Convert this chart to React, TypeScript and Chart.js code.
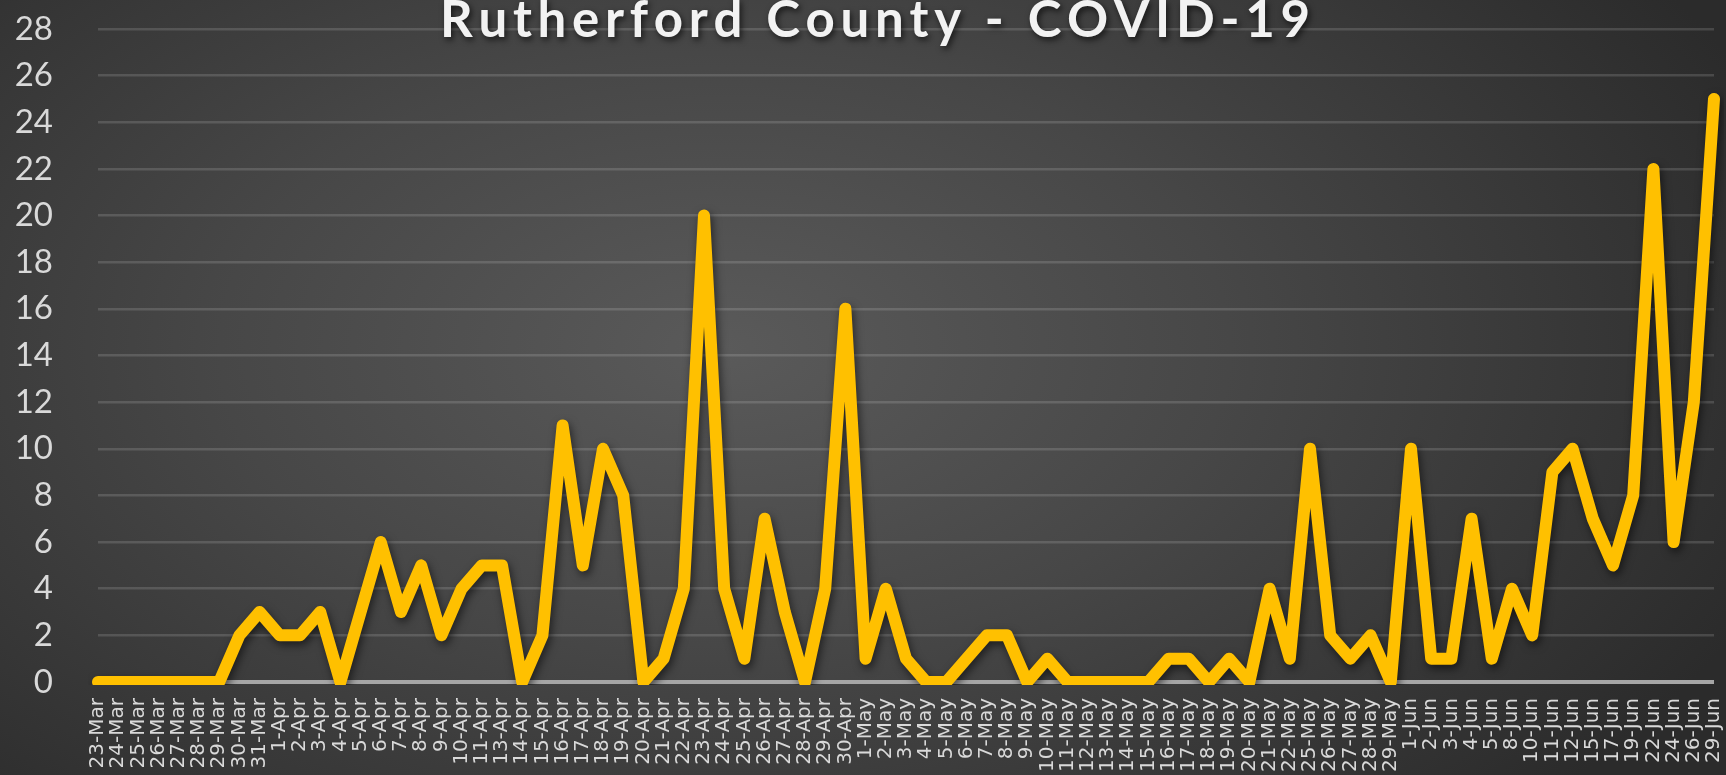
import React, { useEffect, useRef } from 'react';
import { Chart, registerables } from 'chart.js';

Chart.register(...registerables);

const TITLE = 'Rutherford County - COVID-19';

const dates = [
  '23-Mar', '24-Mar', '25-Mar', '26-Mar', '27-Mar', '28-Mar', '29-Mar', '30-Mar', '31-Mar',
  '1-Apr', '2-Apr', '3-Apr', '4-Apr', '5-Apr', '6-Apr', '7-Apr', '8-Apr', '9-Apr', '10-Apr',
  '11-Apr', '13-Apr', '14-Apr', '15-Apr', '16-Apr', '17-Apr', '18-Apr', '19-Apr', '20-Apr',
  '21-Apr', '22-Apr', '23-Apr', '24-Apr', '25-Apr', '26-Apr', '27-Apr', '28-Apr', '29-Apr', '30-Apr',
  '1-May', '2-May', '3-May', '4-May', '5-May', '6-May', '7-May', '8-May', '9-May', '10-May',
  '11-May', '12-May', '13-May', '14-May', '15-May', '16-May', '17-May', '18-May', '19-May',
  '20-May', '21-May', '22-May', '25-May', '26-May', '27-May', '28-May', '29-May',
  '1-Jun', '2-Jun', '3-Jun', '4-Jun', '5-Jun', '8-Jun', '10-Jun', '11-Jun', '12-Jun',
  '15-Jun', '17-Jun', '19-Jun', '22-Jun', '24-Jun', '26-Jun', '29-Jun',
];

const newCases = [
  0, 0, 0, 0, 0, 0, 0, 2, 3,
  2, 2, 3, 0, 3, 6, 3, 5, 2, 4,
  5, 5, 0, 2, 11, 5, 10, 8, 0,
  1, 4, 20, 4, 1, 7, 3, 0, 4, 16,
  1, 4, 1, 0, 0, 1, 2, 2, 0, 1,
  0, 0, 0, 0, 0, 1, 1, 0, 1,
  0, 4, 1, 10, 2, 1, 2, 0,
  10, 1, 1, 7, 1, 4, 2, 9, 10,
  7, 5, 8, 22, 6, 12, 25,
];

const Y_MIN = 0;
const Y_MAX = 28;
const Y_STEP = 2;

const titlePlugin = {
  id: 'spacedTitle',
  afterDraw(chart: any) {
    const ctx = chart.ctx as CanvasRenderingContext2D;
    ctx.save();
    ctx.font = 'bold 51px Lato, "Open Sans", sans-serif';
    ctx.fillStyle = '#f2f2f2';
    ctx.textBaseline = 'alphabetic';
    ctx.textAlign = 'left';
    ctx.shadowColor = 'rgba(0,0,0,0.65)';
    ctx.shadowBlur = 6;
    ctx.shadowOffsetX = 2;
    ctx.shadowOffsetY = 3;
    const chars = Array.from(TITLE);
    const widths = chars.map((c) => ctx.measureText(c).width);
    const natural = widths.reduce((a, b) => a + b, 0);
    const target = 870;
    const spacing = (target - natural) / (chars.length - 1);
    let x = 875 - target / 2;
    chars.forEach((c, i) => {
      ctx.fillText(c, x, 37);
      x += widths[i] + spacing;
    });
    ctx.restore();
  },
};

const shadowPlugin = {
  id: 'lineShadow',
  beforeDatasetDraw(chart: any) {
    const ctx = chart.ctx as CanvasRenderingContext2D;
    ctx.save();
    ctx.shadowColor = 'rgba(0,0,0,0.55)';
    ctx.shadowBlur = 8;
    ctx.shadowOffsetX = 2;
    ctx.shadowOffsetY = 4;
  },
  afterDatasetDraw(chart: any) {
    chart.ctx.restore();
  },
};

export default function App() {
  const canvasRef = useRef<HTMLCanvasElement | null>(null);

  useEffect(() => {
    if (!canvasRef.current) return;
    const chart = new Chart(canvasRef.current, {
      type: 'line',
      data: {
        labels: dates,
        datasets: [
          {
            label: 'New cases',
            data: newCases,
            borderColor: '#FFC000',
            backgroundColor: '#FFC000',
            borderWidth: 12,
            borderJoinStyle: 'round',
            borderCapStyle: 'round',
            pointRadius: 0,
            pointHoverRadius: 0,
            tension: 0,
            fill: false,
            clip: { left: 10, right: 10, top: 10, bottom: 3 } as any,
          },
        ],
      },
      options: {
        animation: false,
        responsive: false,
        maintainAspectRatio: false,
        events: [],
        layout: { padding: { top: 29, right: 12, bottom: 0, left: 0 } },
        plugins: {
          legend: { display: false },
          title: { display: false },
          tooltip: { enabled: false },
        },
        scales: {
          x: {
            type: 'category',
            offset: false,
            grid: { display: false, drawTicks: false },
            border: { display: false },
            ticks: {
              autoSkip: false,
              maxRotation: 90,
              minRotation: 90,
              padding: 16,
              color: '#d9d9d9',
              font: { family: '"DejaVu Sans", sans-serif', size: 20 },
            },
            afterFit(scale: any) {
              scale.height = 93;
              scale.paddingLeft = 0;
              scale.paddingRight = 0;
            },
          },
          y: {
            min: Y_MIN,
            max: Y_MAX,
            border: { display: false },
            grid: {
              drawTicks: false,
              color: (c: any) => (c.tick && c.tick.value === 0 ? '#a6a6a6' : 'rgba(255,255,255,0.14)'),
              lineWidth: (c: any) => (c.tick && c.tick.value === 0 ? 4 : 2.5),
            },
            ticks: {
              stepSize: Y_STEP,
              padding: 45,
              color: '#d9d9d9',
              font: { family: 'Lato, "Open Sans", sans-serif', size: 33 },
            },
            afterFit(scale: any) {
              scale.width = 98;
              scale.paddingTop = 0;
              scale.paddingBottom = 0;
            },
          },
        },
      },
      plugins: [shadowPlugin, titlePlugin],
    });
    return () => chart.destroy();
  }, []);

  return (
    <div
      style={{
        position: 'fixed',
        left: 0,
        top: 0,
        width: 1726,
        height: 775,
        background:
          'radial-gradient(ellipse 65% 85% at 42% 45%, #5a5a5a 0%, #474747 45%, #2b2b2b 100%)',
      }}
    >
      <canvas ref={canvasRef} width={1726} height={775} style={{ display: 'block' }} />
    </div>
  );
}
